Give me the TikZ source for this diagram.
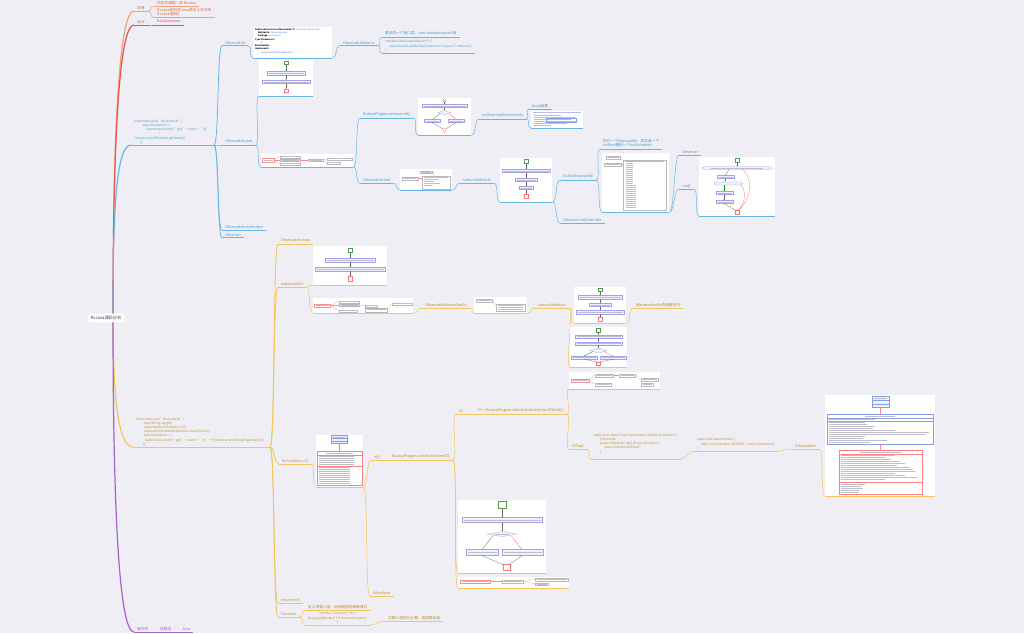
\documentclass[tikz,border=0pt]{standalone}
\usepackage{fontspec}
\setmainfont{Noto Sans CJK SC}
\usetikzlibrary{calc,backgrounds,arrows.meta}

\definecolor{paper}{RGB}{238,238,244}
\definecolor{salmonline}{RGB}{240,162,122}
\definecolor{salmontext}{RGB}{214,112,72}
\definecolor{redline}{RGB}{232,80,78}
\definecolor{blueline}{RGB}{104,182,230}
\definecolor{bluetext}{RGB}{58,158,214}
\definecolor{goldline}{RGB}{242,198,90}
\definecolor{goldtext}{RGB}{190,140,34}
\definecolor{purpleline}{RGB}{166,98,206}
\definecolor{boxline}{RGB}{165,160,235}
\definecolor{boxfill}{RGB}{240,240,253}
\definecolor{barcol}{RGB}{190,190,202}
\definecolor{linkblue}{RGB}{80,115,225}

% a framed box with one grey text bar inside
\newcommand\shotbox[5][fb]{%
  \draw[#1] (#2,#3) rectangle (#4,#5);
  \fill[fbar] ({#2+1.5},{(#3+#5)/2-.3}) rectangle ({#4-1.5},{(#3+#5)/2+.3});}

\begin{document}
\begin{tikzpicture}[x=1pt, y=-1pt,
    root/.style = {fill=white, rounded corners=1.5pt, text=black!75, inner xsep=3pt, inner ysep=2.4pt, font=\fontsize{4.2}{5}\selectfont},
    topic/.style = {anchor=south west, inner xsep=3pt, inner ysep=1pt, align=left, font=\fontsize{3.7}{4.5}\selectfont},
    code/.style = {font=\fontsize{3.1}{4.15}\selectfont},
    uline/.style = {append after command={(\tikzlastnode.south west) edge[draw=#1, line width=.5pt] (\tikzlastnode.south east)}},
    salmon topic/.style = {topic, text=salmontext, uline=salmonline},
    red topic/.style = {topic, text=redline, uline=redline},
    blue topic/.style = {topic, text=bluetext, uline=blueline},
    gold topic/.style = {topic, text=goldtext, uline=goldline},
    purple topic/.style = {topic, text=purpleline, uline=purpleline},
    shot/.style 2 args = {anchor=south west, fill=white, inner sep=0pt, minimum width=#1pt, minimum height=#2pt},
    blue shot/.style 2 args = {shot={#1}{#2}, uline=blueline},
    gold shot/.style 2 args = {shot={#1}{#2}, uline=goldline},
    trunk/.style = {to path={.. controls ($(\tikztostart)!.55!(\tikztostart|-\tikztotarget)$) and ($(\tikztotarget)+(-16,0)$) .. (\tikztotarget)}},
    link/.style = {to path={.. controls +(#1,0) and +(-#1,0) .. (\tikztotarget)}}, link/.default=5,
    fb/.style = {draw=boxline, fill=boxfill, line width=.25pt},
    mb/.style = {draw=black!28, fill=white, line width=.2pt},
    mbr/.style = {draw=red!45, fill=white, line width=.2pt},
    ml/.style = {draw=red!45, line width=.2pt},
    fbar/.style = {fill=barcol},
    fst/.style = {draw=green!45!black!70, fill=white, line width=.25pt},
    fen/.style = {draw=red!55, fill=white, line width=.25pt},
    farr/.style = {-{Stealth[length=1.1pt,width=.9pt]}, line width=.25pt, draw=black!60},
    uml/.style = {-{Triangle[open,length=1.4pt,width=1.6pt]}, line width=.25pt, draw=red!50}]

\useasboundingbox (0,0) rectangle (1024,633);
\begin{scope}[on background layer]
    \fill[paper] (0,0) rectangle (1024,633);
\end{scope}

\node[root] (root) at (106,318) {RxJava源码分析};
\coordinate (hub) at (113,318);

% background and design
\node[salmon topic] (bg) at (134,11) {背景};
\node[salmon topic] (bg1) at (154,6.5) {响应式编程：即 RxJava};
\node[salmon topic] (bg2) at (154,17.6) {RxJava是RX在Java语言上的实现\\RxJava(基础)};
\node[red topic] (des) at (134,25) {设计};
\node[red topic] (bp) at (154,25) {Backpressure};

% Observable.just ... subscribe
\node[blue topic, code] (bcode) at (131,145) {Observable.just("Hello world")\\
    \hspace*{8pt}.subscribe(word -> \{\\
    \hspace*{12pt}System.out.println("got " + word + " @ "\\
    \hspace*{25pt}+\\
    Thread.currentThread().getName());\\
    \hspace*{6pt}\});};
\coordinate (bjun) at (214,145);
\node[blue topic] (obs) at (222,45.7) {Observable};
\node[blue shot={79}{31}] (doc) at (253,58) {};
\node[blue topic] (src) at (340,45.5) {ObservableSource};
\node[blue topic] (srcnote) at (382,37) {基本的一个接口类，non-backpressured 版};
\node[blue topic, code] (srccode) at (382,53) {interface ObservableSource<T> \{\\
    \hspace*{4pt}void subscribe(@NonNull Observer<? super T> observer);\\
    \}};
\node[blue topic] (just) at (222,145) {Observable.just};
\node[blue shot={54}{36}] (justflow) at (259,96) {};
\node[blue shot={92}{13}] (justmap) at (261,167) {};
\node[blue topic] (asm) at (360,118) {RxJavaPlugins.onAssembly};
\node[blue shot={53}{37}] (asmflow) at (418,135) {};
\node[blue topic] (obsasm) at (479,119) {onObservableAssembly};
\node[blue topic] (hook) at (529,109) {hook函数};
\node[blue shot={52}{17}] (hookdoc) at (531,128) {};
\node[blue topic] (ojust) at (360,183) {ObservableJust};
\node[blue shot={52}{21}] (ojustmap) at (400,190) {};
\node[blue topic] (act) at (460,183) {subscribeActual};
\node[blue shot={52}{44}] (actflow) at (500,202) {};
\node[blue topic] (scalar) at (560,180) {ScalarDisposable};
\node[blue topic] (scnote) at (600,149) {执行一个Disposable，其实是一个\\onNext调用一个onComplete};
\node[blue shot={67}{59}] (scmap) at (602,212) {};
\node[blue topic] (obsr2) at (679,155) {Observer};
\node[blue topic] (run) at (679,189) {run()};
\node[blue shot={76}{59}] (runflow) at (699,216) {};
\node[blue topic] (onsub) at (560,223) {Observer.onSubscribe};
\node[blue topic] (sub) at (222,230) {Observable.subscribe};
\node[blue topic] (obsr) at (222,237.5) {Observer};

% map, subscribeOn, observeOn
\node[gold topic, code] (gcode) at (133,447) {Observable.just("Hello world")\\
    \hspace*{7pt}.map(String::length)\\
    \hspace*{7pt}.subscribeOn(Schedulers.io())\\
    \hspace*{7pt}.observeOn(AndroidSchedulers.mainThread())\\
    \hspace*{7pt}.subscribe(word -> \{\\
    \hspace*{9pt}System.out.println("got " + word + " @ " + Thread.currentThread().getName());\\
    \hspace*{7pt}\});};
\coordinate (gjun) at (270,447);
\node[gold topic] (map) at (278,244) {Observable.map};
\node[gold topic] (subon) at (278,287) {subscribeOn};
\node[gold shot={74}{39}] (mapflow) at (313,285) {};
\node[gold shot={100}{15}] (subonmap) at (313,313) {};
\node[gold topic] (osubon) at (422,308) {ObservableSubscribeOn};
\node[gold shot={53}{16}] (osubonmap) at (474,313) {};
\node[gold topic] (act2) at (535,308) {subscribeActual};
\node[gold shot={52}{36}] (act2flow) at (574,323) {};
\node[gold shot={57}{40}] (act2flowb) at (570,367) {};
\node[gold topic] (runon) at (633,308) {用subscribeOn的线程执行};
\node[gold topic] (schio) at (279,464) {Schedulers.io()};
\node[gold shot={47}{52}] (schuml) at (316,487) {};
\node[gold topic] (io) at (371,460) {io()};
\node[gold topic] (onio) at (389,460) {RxJavaPlugins.onIoScheduler(IO)};
\node[gold topic] (ionode) at (456,414) {IO};
\node[gold topic] (ioset) at (475,414) {IO = RxJavaPlugins.initIoScheduler(new IOTask());};
\node[gold shot={91}{17}] (iomap) at (569,389) {};
\node[gold topic] (iotask) at (569,449) {IOTask};
\node[gold topic, code] (iotaskcode) at (591,459) {static final class IOTask implements Callable<Scheduler> \{\\
    \hspace*{6pt}@Override\\
    \hspace*{6pt}public Scheduler call() throws Exception \{\\
    \hspace*{10pt}return IoHolder.DEFAULT;\\
    \hspace*{6pt}\}\\
    \}};
\node[gold topic, code] (holder) at (694,451) {static final class IoHolder \{\\
    \hspace*{4pt}static final Scheduler DEFAULT = new IoScheduler();\\
    \}};
\node[gold topic] (iosch) at (792,449) {IoScheduler};
\node[gold shot={110}{101}] (ioschuml) at (825,496) {};
\node[gold shot={88}{73}] (ioflow) at (458,573) {};
\node[gold shot={111}{11}] (iomap2) at (458,588) {};
\node[gold topic] (sched) at (370,596) {Scheduler};
\node[gold topic] (obson) at (278,603) {observeOn};
\node[gold topic] (func) at (278,617) {Function};
\node[gold topic] (fnote) at (305,610) {定义将输入值，返回新值的函数接口};
\node[gold topic, code, align=center] (fcode) at (305,625) {interface Function<T, R> \{\\
    R apply(@NonNull T t) throws Exception;\\
    \}};
\node[gold topic] (fres) at (385,621) {对输入值进行计算，返回输出值};

% operators
\node[purple topic] (op1) at (134,632) {操作符};
\node[purple topic] (op2) at (157,632) {线程池};
\node[purple topic] (op3) at (179,632) {Java};

% --- screenshots ---
\begin{scope}[shift={(doc.north west)}]
    \node[anchor=north west, inner sep=0pt, align=left, font=\fontsize{2.2}{3.3}\selectfont] (doctext) at (2,1.5)
    {\textbf{Public abstract class Observable<T>} \textcolor{linkblue}{io.reactivex.Observable}\\
     \hspace*{3pt}\textbf{Method in:} \textcolor{linkblue}{Observable.java}\\
     \hspace*{3pt}\textbf{Package:} \textcolor{linkblue}{io.reactivex}\\
     \textbf{Type Parameters:}\\
     \hspace*{6pt}T\\
     \textbf{Extended By:}\\
     \textbf{Implements:}\\
     \hspace*{6pt}\textcolor{linkblue}{io.reactivex.ObservableSource}};
\end{scope}
\begin{scope}[shift={(justflow.north west)}]
    \draw[fst] (25,1.5) rectangle (29,5);
    \draw[farr] (27,5) -- (27,12);
    \shotbox{8}{12}{46}{15.5}
    \draw[farr] (27,15.5) -- (27,20.5);
    \shotbox{3}{20.5}{51}{24}
    \draw[farr] (27,24) -- (27,29.5);
    \draw[fen] (25,29.5) rectangle (29,33);
\end{scope}
\begin{scope}[shift={(justmap.north west)}]
    \shotbox[mbr]{1}{4.5}{13}{8.5}
    \draw[ml] (13,6.5) .. controls (16,6.5) and (15,3) .. (19,3);
    \draw[ml] (13,6.5) -- (19,6.5);
    \draw[ml] (13,6.5) .. controls (16,6.5) and (15,10) .. (19,10);
    \shotbox[mb]{19}{2}{39}{4}
    \shotbox[mb]{19}{5.5}{39}{7.5}
    \shotbox[mb]{19}{9}{39}{11}
    \draw[ml] (39,6.5) -- (47,6.5);
    \shotbox[mb]{47}{5.5}{62}{7.5}
    \draw[ml] (62,6.5) .. controls (64,6.5) and (64,5) .. (66,5);
    \draw[ml] (62,6.5) .. controls (64,6.5) and (64,9) .. (66,9);
    \shotbox[mb]{66}{4}{91}{6}
    \shotbox[mb]{66}{8}{79}{10}
\end{scope}
\begin{scope}[shift={(asmflow.north west)}]
    \draw[fst] (26.5,3) circle (1.8);
    \draw[farr] (26.5,4.8) -- (26.5,7);
    \shotbox{4}{7}{49}{10}
    \draw[farr] (26.5,10) -- (26.5,13);
    \draw[fb] (20,15) -- (26.5,13) -- (33,15) -- (26.5,17) -- cycle;
    \draw[farr, draw=green!60!black] (22,16) -- (14,22);
    \draw[farr, draw=red!70] (31,16) -- (38,22);
    \shotbox{6}{22}{22}{25}
    \shotbox{30}{22}{46}{25}
    \draw[farr] (14,25) -- (25.5,31.5);
    \draw[farr] (38,25) -- (27.5,31.5);
    \draw[fen] (26.5,33) circle (1.8);
\end{scope}
\begin{scope}[shift={(hookdoc.north west)}]
    \fill[linkblue!45] (2,1.5) rectangle (50,2.3);
    \foreach \y/\w in {4.5/30, 6.5/44, 8.5/40, 10.5/46, 12.5/36, 14.5/20}
        \fill[fbar] (3,\y) rectangle (\w,\y+.6);
    \draw[linkblue!70, line width=.2pt] (15,7.8) rectangle (45,11.8);
\end{scope}
\begin{scope}[shift={(ojustmap.north west)}]
    \shotbox[mb]{20}{2}{32}{4.5}
    \shotbox[mb]{2}{8}{18}{11}
    \draw[ml] (32,3.2) .. controls (35,3.2) and (34,9) .. (37,9);
    \draw[ml] (18,9.5) -- (22,9.5);
    \draw[mb] (22,7) rectangle (50,20);
    \foreach \y/\w in {8.5/48, 10.5/38, 12.5/34, 14.5/40, 16.5/33}
        \fill[fbar] (24,\y) rectangle (\w,\y+.6);
\end{scope}
\begin{scope}[shift={(actflow.north west)}]
    \draw[fst] (24,2) rectangle (28,6);
    \draw[farr] (26,6) -- (26,12);
    \shotbox{2}{12}{50}{15}
    \draw[farr] (26,15) -- (26,21);
    \shotbox{15}{21}{37}{24}
    \draw[farr] (26,24) -- (26,29);
    \shotbox{19}{29}{33}{32}
    \draw[farr] (26,32) -- (26,37);
    \draw[fen] (24,37) rectangle (28,41);
\end{scope}
\begin{scope}[shift={(scmap.north west)}]
    \shotbox[mb]{4}{3.5}{18}{6}
    \shotbox[mb]{2}{10}{19}{13}
    \draw[ml] (18,4.8) .. controls (21,4.8) and (19,8) .. (22,8);
    \draw[ml] (19,11.5) -- (22,11.5);
    \draw[mb] (21,7) rectangle (64,57);
    \fill[fbar] (23,8) rectangle (62,8.7);
    \foreach \y in {10.5,12.5,...,30.5} \fill[fbar] (24,\y) rectangle (31,\y+.6);
    \foreach \y in {32.5,34.5,...,54.5} \fill[fbar] (24,\y) rectangle (34,\y+.6);
\end{scope}
\begin{scope}[shift={(runflow.north west)}]
    \draw[fst] (36,2) rectangle (40,6);
    \draw[farr] (38,6) -- (38,10);
    \draw[fb] (6,10) -- (70,10) -- (73,11.5) -- (70,13) -- (6,13) -- (3,11.5) -- cycle;
    \fill[fbar] (12,11.2) rectangle (64,11.8);
    \draw[farr, draw=green!60!black] (30,13) -- (26,19);
    \shotbox{18}{19}{35}{22}
    \draw[farr] (26,22) -- (26,25.5);
    \draw[fb] (17,25.5) -- (42,25.5) -- (44,27) -- (42,28.5) -- (17,28.5) -- (15,27) -- cycle;
    \draw[farr, draw=green!60!black] (25,28.5) -- (25,35);
    \shotbox{17}{35}{34}{38}
    \draw[farr] (25,38) -- (25,44);
    \shotbox{17}{44}{34}{47}
    \draw[farr] (25,47) -- (36,53.5);
    \draw[red!60, line width=.25pt] (44,13) .. controls (56,25) and (50,45) .. (39.5,53.5);
    \draw[red!60, line width=.25pt] (42,28.5) .. controls (48,35) and (46,48) .. (38.5,53.5);
    \draw[fen] (36,53.5) rectangle (40,57.5);
\end{scope}
\begin{scope}[shift={(mapflow.north west)}]
    \draw[fst] (35,3) rectangle (39,7);
    \draw[farr] (37,7) -- (37,13);
    \shotbox{12}{13}{62}{16.5}
    \draw[farr] (37,16.5) -- (37,22);
    \shotbox{2}{22}{72}{25.5}
    \draw[farr] (37,25.5) -- (37,31);
    \draw[fen] (35,31) rectangle (39,35.5);
\end{scope}
\begin{scope}[shift={(subonmap.north west)}]
    \shotbox[mbr]{1}{6}{17}{9}
    \draw[ml] (17,7.5) .. controls (21,7.5) and (22,4) .. (26,4);
    \draw[ml] (17,7.5) -- (26,7.5);
    \draw[ml] (17,7.5) .. controls (21,7.5) and (22,13) .. (26,13);
    \shotbox[mb]{26}{3}{46}{5}
    \shotbox[mb]{26}{6.5}{46}{8.5}
    \shotbox[mb]{26}{12}{44}{14}
    \draw[ml] (46,7.5) -- (52,8);
    \shotbox[mb]{52}{7}{64}{9}
    \shotbox[mb]{52}{10}{74}{14}
    \draw[ml] (74,12) .. controls (77,12) and (76,6) .. (79,6);
    \shotbox[mb]{79}{5}{99}{7}
\end{scope}
\begin{scope}[shift={(osubonmap.north west)}]
    \shotbox[mb]{2}{2.5}{18}{5}
    \draw[ml] (18,3.7) .. controls (20,3.7) and (19,8) .. (22,8);
    \draw[mb] (22,7) rectangle (51,14.5);
    \foreach \y in {8.3,10.3,12.3} \fill[fbar] (24,\y) rectangle (49,\y+.6);
\end{scope}
\begin{scope}[shift={(act2flow.north west)}]
    \draw[fst] (24,1.5) rectangle (28,5);
    \draw[farr] (26,5) -- (26,9);
    \shotbox{4}{9}{48}{12.5}
    \draw[farr] (26,12.5) -- (26,17);
    \shotbox{15}{17}{37}{20}
    \draw[farr] (26,20) -- (26,24);
    \shotbox{2}{24}{50}{27.5}
    \draw[farr] (26,27.5) -- (26,31);
    \draw[fen] (24,31) rectangle (28,34.5);
\end{scope}
\begin{scope}[shift={(act2flowb.north west)}]
    \draw[fst] (26.5,2) rectangle (30.5,5.5);
    \draw[farr] (28.5,5.5) -- (28.5,8.5);
    \shotbox{5}{8.5}{52}{11.5}
    \draw[farr] (28.5,11.5) -- (28.5,15.5);
    \shotbox{5}{15.5}{52}{18.5}
    \draw[farr] (28.5,18.5) -- (28.5,21.5);
    \draw[fb] (20,24) -- (28.5,21.5) -- (37,24) -- (28.5,26.5) -- cycle;
    \draw[farr, draw=green!60!black] (23,25) -- (14,29.5);
    \draw[farr, draw=red!70] (34,25) -- (43,29.5);
    \shotbox{1}{29.5}{27}{32.5}
    \shotbox{30}{29.5}{56}{32.5}
    \draw[farr] (14,32.5) -- (27.5,35.5);
    \draw[farr] (43,32.5) -- (29.5,35.5);
    \draw[fen] (26.5,35.5) rectangle (30.5,39);
\end{scope}
\begin{scope}[shift={(iomap.north west)}]
    \shotbox[mbr]{2}{7}{20}{10.5}
    \draw[ml] (20,8.7) .. controls (23,8.7) and (23,3.5) .. (26,3.5);
    \draw[ml] (20,8.7) .. controls (23,8.7) and (23,12.5) .. (26,12.5);
    \shotbox[mb]{26}{2}{44}{5}
    \shotbox[mb]{26}{11}{42}{14}
    \draw[ml] (44,3.5) -- (50,3.5);
    \shotbox[mb]{50}{2}{66}{5}
    \draw[ml] (66,3.5) .. controls (69,3.5) and (69,8) .. (72,8);
    \shotbox[mb]{72}{6.5}{89}{9.5}
    \shotbox[mb]{72}{11}{84}{14}
\end{scope}
\begin{scope}[shift={(schuml.north west)}]
    \draw[draw=linkblue!70, fill=boxfill, line width=.25pt] (15,1) rectangle (31,9);
    \draw[linkblue!70, line width=.2pt] (15,3.5) -- (31,3.5) (15,6) -- (31,6);
    \fill[fbar] (17,1.9) rectangle (29,2.5);
    \draw[uml] (23,17) -- (23,9);
    \draw[draw=red!50, fill=white, line width=.25pt] (1,17) rectangle (46,51);
    \draw[red!50, line width=.2pt] (1,20) -- (46,20) (1,31) -- (46,31);
    \fill[fbar] (10,18.2) rectangle (37,18.8);
    \foreach \y in {21.5,23.5,...,29.5} \fill[fbar] (3,\y) rectangle (38,\y+.55);
    \foreach \y in {32.5,34.5,...,48.5} \fill[fbar] (3,\y) rectangle (34,\y+.55);
\end{scope}
\begin{scope}[shift={(ioschuml.north west)}]
    \draw[draw=linkblue!70, fill=boxfill, line width=.25pt] (47,2) rectangle (64,13);
    \draw[linkblue!70, line width=.2pt] (47,5) -- (64,5) (47,9) -- (64,9);
    \fill[fbar] (49,3.2) rectangle (62,3.8);
    \draw[uml] (55.5,20) -- (55.5,13);
    \draw[draw=linkblue!70, fill=white, line width=.25pt] (2,20) rectangle (108,50);
    \draw[linkblue!70, line width=.2pt] (2,23) -- (108,23) (2,26) -- (108,26);
    \fill[fbar] (40,21.2) rectangle (70,21.8);
    \fill[fbar] (4,24.2) rectangle (50,24.8);
    \foreach \y/\w in {27.5/40, 29.5/42, 31.5/50, 33.5/48, 35.5/70, 37.5/104, 39.5/100, 41.5/40, 43.5/38, 45.5/62, 47.5/45}
        \fill[fbar] (4,\y) rectangle (\w,\y+.55);
    \draw[uml] (55.5,56) -- (55.5,50);
    \draw[draw=red!50, fill=white, line width=.25pt] (14,56) rectangle (97,100);
    \draw[red!50, line width=.2pt] (14,59) -- (97,59) (14,87.5) -- (97,87.5);
    \fill[fbar] (35,57.2) rectangle (76,57.8);
    \foreach \y/\w in {60.5/70, 62.5/60, 64.5/66, 66.5/75, 68.5/80, 70.5/72, 72.5/85, 74.5/88, 76.5/90, 78.5/70, 80.5/80, 82.5/92, 84.5/60}
        \fill[fbar] (16,\y) rectangle (\w,\y+.55);
    \foreach \y/\w in {89/40, 91/36, 93/38, 95/34, 97/33}
        \fill[fbar] (16,\y) rectangle (\w,\y+.55);
\end{scope}
\begin{scope}[shift={(ioflow.north west)}]
    \draw[fst] (40,2) rectangle (48,9);
    \draw[farr] (44,9) -- (44,18);
    \shotbox{4}{18}{84}{23}
    \draw[farr] (44,23) -- (44,32);
    \draw[fb] (29,34.5) -- (44,32) -- (59,34.5) -- (44,37) -- cycle;
    \fill[fbar] (37,34.2) rectangle (51,34.8);
    \draw[farr, draw=green!60!black] (35,36) -- (24,50);
    \draw[farr, draw=red!70] (53,36) -- (64,50);
    \shotbox{8}{50}{40}{56}
    \shotbox{44}{50}{85}{56}
    \draw[farr] (24,56) -- (45,65);
    \draw[farr] (64,56) -- (51,65);
    \draw[fen] (45,65) rectangle (52,71);
\end{scope}
\begin{scope}[shift={(iomap2.north west)}]
    \shotbox[mbr]{2}{3}{32}{6.5}
    \draw[ml] (32,4.7) -- (44,4.7);
    \shotbox[mb]{44}{3}{65}{6.5}
    \draw[ml] (65,4.7) .. controls (70,4.7) and (72,2.5) .. (77,2.5);
    \draw[ml] (65,4.7) .. controls (70,4.7) and (72,7) .. (77,7);
    \shotbox[mb]{77}{1}{110}{4}
    \shotbox[mb]{77}{6}{90}{8.5}
\end{scope}

% --- branches ---
\begin{scope}[on background layer]
    \path[draw=salmonline, line width=1.2pt] (hub) edge[trunk] (bg.south west);
    \path[draw=salmonline, line width=.5pt] (bg.south east) edge[link] (bg1.south west)
        (bg.south east) edge[link] (bg2.south west);
    \path[draw=redline, line width=1.2pt] (hub) edge[trunk] (des.south west);
    \path[draw=redline, line width=.5pt] (des.south east) edge[link] (bp.south west);

    \path[draw=blueline, line width=1.2pt] (hub) edge[trunk] (bcode.south west);
    \path[draw=blueline, line width=1pt] (bcode.south west) edge (bjun);
    \path[draw=blueline, line width=.8pt] (bjun) edge[link] (obs.south west)
        (bjun) edge[link] (just.south west)
        (bjun) edge[link] (sub.south west)
        (bjun) edge[link] (obsr.south west);
    \path[draw=blueline, line width=.5pt] (obs.south east) edge[link] (doc.south west)
        (doc.south east) edge[link] (src.south west)
        (src.south east) edge[link] (srcnote.south west)
        (src.south east) edge[link] (srccode.south west)
        (just.south east) edge[link] (justflow.south west)
        (just.south east) edge[link] (justmap.south west)
        (justmap.south east) edge[link] (asm.south west)
        (justmap.south east) edge[link] (ojust.south west)
        (asm.south east) edge[link] (asmflow.south west)
        (asmflow.south east) edge[link] (obsasm.south west)
        (obsasm.south east) edge[link] (hook.south west)
        (obsasm.south east) edge[link] (hookdoc.south west)
        (ojust.south east) edge[link] (ojustmap.south west)
        (ojustmap.south east) edge[link] (act.south west)
        (act.south east) edge[link] (actflow.south west)
        (actflow.south east) edge[link] (scalar.south west)
        (actflow.south east) edge[link] (onsub.south west)
        (scalar.south east) edge[link] (scnote.south west)
        (scalar.south east) edge[link] (scmap.south west)
        (scmap.south east) edge[link] (obsr2.south west)
        (scmap.south east) edge[link] (run.south west)
        (run.south east) edge[link] (runflow.south west);

    \path[draw=goldline, line width=1.2pt] (hub) edge[trunk] (gcode.south west);
    \path[draw=goldline, line width=1pt] (gcode.south west) edge (gjun);
    \path[draw=goldline, line width=.8pt] (gjun) edge[link] (map.south west)
        (gjun) edge[link] (subon.south west)
        (gjun) edge[link] (schio.south west)
        (gjun) edge[link] (obson.south west)
        (gjun) edge[link] (func.south west);
    \path[draw=goldline, line width=.5pt] (subon.south east) edge[link] (mapflow.south west)
        (subon.south east) edge[link] (subonmap.south west)
        (subonmap.south east) edge[link] (osubon.south west)
        (osubon.south east) edge[link] (osubonmap.south west)
        (osubonmap.south east) edge[link] (act2.south west)
        (act2.south east) edge[link] (act2flow.south west)
        (act2.south east) edge[link] (act2flowb.south west)
        (act2flow.south east) edge[link] (runon.south west)
        (schio.south east) edge[link] (schuml.south west)
        (schuml.south east) edge[link] (io.south west)
        (schuml.south east) edge[link] (sched.south west)
        (io.south east) edge[link] (onio.south west)
        (onio.south east) edge[link] (ionode.south west)
        (onio.south east) edge[link] (ioflow.south west)
        (onio.south east) edge[link] (iomap2.south west)
        (ionode.south east) edge[link] (ioset.south west)
        (ioset.south east) edge[link] (iomap.south west)
        (ioset.south east) edge[link] (iotask.south west)
        (iotask.south east) edge[link] (iotaskcode.south west)
        (iotaskcode.south east) edge[link] (holder.south west)
        (holder.south east) edge[link] (iosch.south west)
        (iosch.south east) edge[link] (ioschuml.south west)
        (func.south east) edge[link] (fnote.south west)
        (func.south east) edge[link] (fcode.south west)
        (fcode.south east) edge[link] (fres.south west);

    \path[draw=purpleline, line width=1.2pt] (hub) edge[trunk] (op1.south west);
    \path[draw=purpleline, line width=.5pt] (op1.south east) edge[link] (op2.south west)
        (op2.south east) edge[link] (op3.south west);
\end{scope}
\end{tikzpicture}
\end{document}
